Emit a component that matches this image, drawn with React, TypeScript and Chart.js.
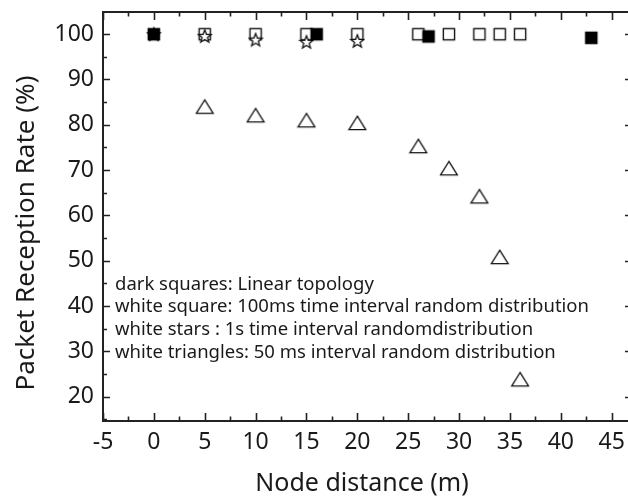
import { useEffect, useRef } from "react";
import { Chart, registerables } from "chart.js";

Chart.register(...registerables);

// ---- data ----
const linearX = [0, 16, 27, 43];
const linearY = [100, 100, 99.5, 99.2];

const ms100X = [5, 10, 15, 20, 26, 29, 32, 34, 36];
const ms100Y = [100, 100, 100, 100, 100, 100, 100, 100, 100];

const s1X = [0, 5, 10, 15, 20];
const s1Y = [100, 99.6, 98.8, 98.3, 98.5];

const ms50X = [5, 10, 15, 20, 26, 29, 32, 34, 36];
const ms50Y = [84, 82.1, 81, 80.4, 75.3, 70.4, 64.2, 50.8, 23.8];

const xTickValues = [-5, 0, 5, 10, 15, 20, 25, 30, 35, 40, 45];
const yTickValues = [20, 30, 40, 50, 60, 70, 80, 90, 100];

const annotationLines = [
  "dark squares: Linear topology",
  "white square: 100ms time interval random distribution",
  "white stars : 1s time interval randomdistribution",
  "white triangles: 50 ms interval random distribution",
];

const xTitle = "Node distance (m)";
const yTitle = "Packet Reception Rate (%)";

const FONT = "'Noto Sans', 'Open Sans', sans-serif";
const INK = "#1a1a1a";

function toPoints(xs: number[], ys: number[]) {
  return xs.map((x, i) => ({ x, y: ys[i] }));
}

function makeMarker(kind: "filled" | "open" | "star" | "tri"): HTMLCanvasElement {
  const c = document.createElement("canvas");
  const size = kind === "tri" ? 20 : 16;
  c.width = size;
  c.height = size;
  const ctx = c.getContext("2d")!;
  const m = size / 2;
  ctx.strokeStyle = "#111";
  ctx.lineJoin = "miter";
  if (kind === "filled") {
    ctx.fillStyle = "#000";
    ctx.fillRect(m - 6.3, m - 6.3, 12.6, 12.6);
  } else if (kind === "open") {
    ctx.lineWidth = 1.4;
    ctx.fillStyle = "#fff";
    ctx.fillRect(m - 5.6, m - 5.6, 11.2, 11.2);
    ctx.strokeRect(m - 5.6, m - 5.6, 11.2, 11.2);
  } else if (kind === "star") {
    ctx.lineWidth = 1.3;
    ctx.fillStyle = "#fff";
    ctx.beginPath();
    const R = 6.8;
    const r = 2.9;
    for (let i = 0; i < 10; i++) {
      const a = -Math.PI / 2 + (i * Math.PI) / 5;
      const rr = i % 2 === 0 ? R : r;
      const px = m + rr * Math.cos(a);
      const py = m + 0.6 + rr * Math.sin(a);
      if (i === 0) ctx.moveTo(px, py);
      else ctx.lineTo(px, py);
    }
    ctx.closePath();
    ctx.fill();
    ctx.stroke();
  } else {
    ctx.lineWidth = 1.3;
    ctx.fillStyle = "#fff";
    ctx.beginPath();
    ctx.moveTo(m, m - 6.8);
    ctx.lineTo(m + 8.4, m + 6.6);
    ctx.lineTo(m - 8.4, m + 6.6);
    ctx.closePath();
    ctx.fill();
    ctx.stroke();
  }
  return c;
}

const framePlugin = {
  id: "frameAndText",
  afterDraw(chart: any) {
    const { ctx, chartArea } = chart;
    const { left, right, top, bottom } = chartArea;
    const xs = chart.scales.x;
    const ys = chart.scales.y;
    ctx.save();
    // frame
    ctx.strokeStyle = "#222";
    ctx.lineWidth = 2;
    ctx.strokeRect(left, top, right - left, bottom - top);
    // x ticks (inward, bottom and top)
    ctx.lineWidth = 1.6;
    ctx.beginPath();
    for (const v of xTickValues) {
      const px = Math.round(xs.getPixelForValue(v)) + 0.5;
      ctx.moveTo(px, bottom);
      ctx.lineTo(px, bottom - 8);
      ctx.moveTo(px, top);
      ctx.lineTo(px, top + 8);
      const mv = v + 2.5;
      if (mv < xs.max) {
        const mp = Math.round(xs.getPixelForValue(mv)) + 0.5;
        ctx.moveTo(mp, bottom);
        ctx.lineTo(mp, bottom - 4.5);
        ctx.moveTo(mp, top);
        ctx.lineTo(mp, top + 4.5);
      }
    }
    // y ticks (inward, left and right)
    for (const v of yTickValues) {
      const py = Math.round(ys.getPixelForValue(v)) + 0.5;
      ctx.moveTo(left, py);
      ctx.lineTo(left + 7, py);
      ctx.moveTo(right, py);
      ctx.lineTo(right - 7, py);
      for (const mv of [v - 5, v + 5]) {
        if (mv > ys.min && mv < ys.max && !yTickValues.includes(mv)) {
          const mp = Math.round(ys.getPixelForValue(mv)) + 0.5;
          ctx.moveTo(left, mp);
          ctx.lineTo(left + 4, mp);
          ctx.moveTo(right, mp);
          ctx.lineTo(right - 4, mp);
        }
      }
    }
    ctx.stroke();

    // annotation text
    ctx.fillStyle = INK;
    ctx.font = `18.5px ${FONT}`;
    ctx.textAlign = "left";
    ctx.textBaseline = "middle";
    annotationLines.forEach((t, i) => {
      ctx.fillText(t, left + 12, ys.getPixelForValue(45 - 5 * i) + 1);
    });

    // axis titles
    ctx.font = `25px ${FONT}`;
    ctx.textAlign = "center";
    ctx.textBaseline = "middle";
    ctx.fillText(xTitle, 362, 484);
    ctx.save();
    ctx.translate(27, 233);
    ctx.rotate(-Math.PI / 2);
    ctx.font = `26px ${FONT}`;
    ctx.fillText(yTitle, 0, 0);
    ctx.restore();
    ctx.restore();
  },
};

export default function App() {
  const ref = useRef<HTMLCanvasElement | null>(null);

  useEffect(() => {
    if (!ref.current) return;
    const chart = new Chart(ref.current, {
      type: "scatter",
      data: {
        datasets: [
          {
            label: "Linear topology",
            data: toPoints(linearX, linearY),
            pointStyle: makeMarker("filled"),
          },
          {
            label: "1s time interval",
            data: toPoints(s1X, s1Y),
            pointStyle: makeMarker("star"),
          },
          {
            label: "100ms time interval",
            data: toPoints(ms100X, ms100Y),
            pointStyle: makeMarker("open"),
          },
          {
            label: "50 ms interval",
            data: toPoints(ms50X, ms50Y),
            pointStyle: makeMarker("tri"),
          },
        ] as any,
      },
      options: {
        animation: false,
        responsive: false,
        devicePixelRatio: 1,
        layout: { padding: { left: 0, right: 8, top: 12, bottom: 0 } },
        plugins: { legend: { display: false }, tooltip: { enabled: false } },
        scales: {
          x: {
            type: "linear",
            min: -5,
            max: 47,
            grid: { display: false, drawTicks: false },
            border: { display: false },
            afterFit: (s: any) => {
              s.height = 77;
              s.paddingLeft = 0;
              s.paddingRight = 0;
            },
            afterBuildTicks: (s: any) => {
              s.ticks = xTickValues.map((v) => ({ value: v }));
            },
            ticks: {
              font: { family: FONT, size: 23 },
              color: INK,
              padding: 8,
              maxRotation: 0,
              autoSkip: false,
            },
          },
          y: {
            type: "linear",
            min: 14.6,
            max: 104.9,
            grid: { display: false, drawTicks: false },
            border: { display: false },
            afterFit: (s: any) => {
              s.width = 103;
              s.paddingTop = 0;
              s.paddingBottom = 0;
            },
            afterBuildTicks: (s: any) => {
              s.ticks = yTickValues.map((v) => ({ value: v }));
            },
            ticks: {
              font: { family: FONT, size: 23 },
              color: INK,
              padding: 9,
              autoSkip: false,
            },
          },
        },
      } as any,
      plugins: [framePlugin],
    });
    return () => chart.destroy();
  }, []);

  return (
    <div
      style={{
        position: "fixed",
        left: 0,
        top: 0,
        width: 628,
        height: 498,
        overflow: "hidden",
        background: "#fff",
      }}
    >
      <canvas ref={ref} width={640} height={498} style={{ display: "block" }} />
    </div>
  );
}
